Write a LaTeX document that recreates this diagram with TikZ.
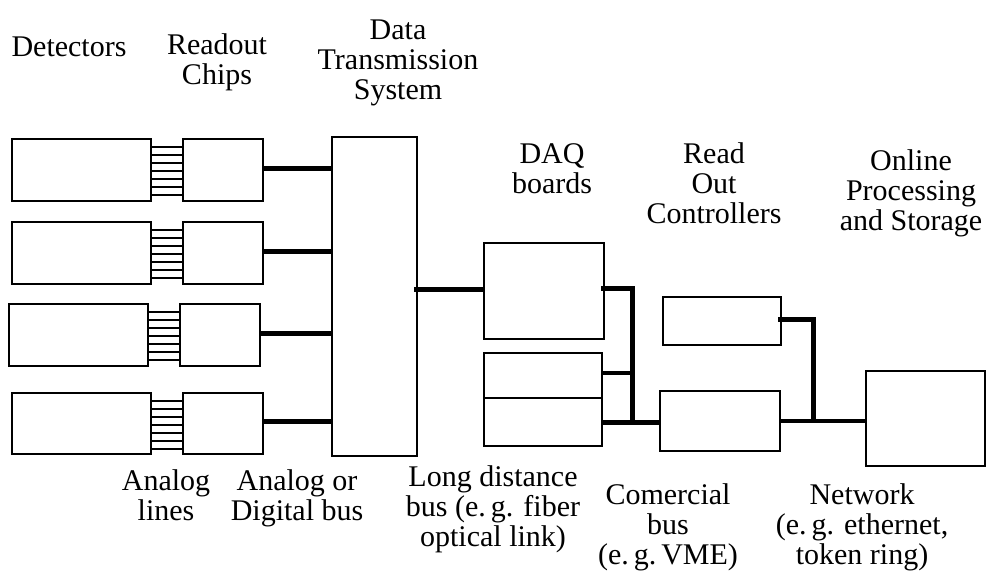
\documentclass[tikz,border=0pt]{standalone}
\usepackage{fontspec}
\setmainfont{Liberation Serif}
\usetikzlibrary{calc}
\tikzset{
  box/.style 2 args={draw, line width=1pt, inner sep=0pt, outer sep=0pt,
    anchor=north west, minimum width=#1*0.5pt, minimum height=#2*0.5pt},
  thickbus/.style={line width=2.5pt},
  midbus/.style={line width=2pt},
  aline/.style={line width=#1},
  aline/.default=1pt,
  % multi-line labels are placed by the baseline of their last line
  lbl/.style={font=\fontsize{15}{15}\selectfont, align=center, anchor=base, inner sep=0pt}
}
\begin{document}
\begin{tikzpicture}[x=0.5pt,y=-0.5pt]
\useasboundingbox (0,0) rectangle (988,573);

% detectors and readout chips
\node[box={139}{62}] (det1) at (12,139) {};
\node[box={80}{62}]  (chip1) at (183,139) {};
\node[box={139}{62}] (det2) at (12,222) {};
\node[box={80}{62}]  (chip2) at (183,222) {};
\node[box={139}{62}] (det3) at (9,304) {};
\node[box={80}{62}]  (chip3) at (180,304) {};
\node[box={139}{61}] (det4) at (12,393) {};
\node[box={80}{61}]  (chip4) at (183,393) {};

% data transmission system
\node[box={85}{319}] (dts) at (332,137) {};

% DAQ boards
\node[box={120}{96}] (daq1) at (484,243) {};
\node[box={118}{45}] (daq2a) at (484,353) {};
\node[box={118}{48}] (daq2b) at (484,398) {};

% read out controllers
\node[box={118}{48}] (roc1) at (663,297) {};
\node[box={120}{60}] (roc2) at (660,391) {};

% online processing and storage
\node[box={119}{95}] (store) at (866,371) {};

% analog lines between detectors and chips
\foreach \r/\w in {1/1.35pt,2/1.35pt,3/1pt,4/1pt}{
  \foreach \k in {0,...,6}{
    \draw[aline=\w] ($(det\r.north east)+(0,8+8*\k)$) -- ($(chip\r.north west)+(0,8+8*\k)$);
  }
}

% chip buses into the transmission system
\foreach \r in {1,...,4}{
  \draw[thickbus] ($(chip\r.east)+(0,-2)$) -- ($(chip\r.east -| dts.west)+(0,-2)$);
}

% long distance bus
\draw[thickbus] ($(daq1.west -| dts.east)+(-3,-2)$) -- ($(daq1.west)+(0,-2)$);

% commercial bus
\coordinate (busA) at (632,0);
\draw[thickbus] ($(daq1.east)+(-3,-3)$) -| (busA |- daq2b.east);
\draw[midbus] ($(daq2a.east)+(0,-3)$) -- ($(daq2a.east -| busA)+(0,-3)$);
\draw[thickbus] (daq2b.east) -- (daq2b.east -| roc2.west);

% network
\coordinate (busB) at (813,0);
\draw[thickbus] ($(roc1.east)+(-3,-2)$) -| (busB |- roc2.east);
\draw[midbus] (roc2.east) -- (roc2.east -| store.west);

% labels
\node[lbl] (tdet) at (69,56) {Detectors};
\node[lbl] (tchip) at (217,84) {Readout\\Chips};
\node[lbl] (tdts) at (398,99) {Data\\Transmission\\System};
\node[lbl] (tdaq) at (552,193) {DAQ\\boards};
\node[lbl] (troc) at (714,223) {Read\\Out\\Controllers};
\node[lbl] (tstore) at (911,230) {Online\\Processing\\and Storage};
\node[lbl] (tana) at (166,520) {Analog\\lines};
\node[lbl] (tdig) at (297,520) {Analog or\\Digital bus};
\node[lbl] (tlong) at (493,546) {Long distance\\bus (e.\,g. fiber\\optical link)};
\node[lbl] (tcom) at (668,564) {Comercial\\bus\\(e.\,g.\,VME)};
\node[lbl] (tnet) at (862,564) {Network\\(e.\,g. ethernet,\\token ring)};
\end{tikzpicture}
\end{document}
